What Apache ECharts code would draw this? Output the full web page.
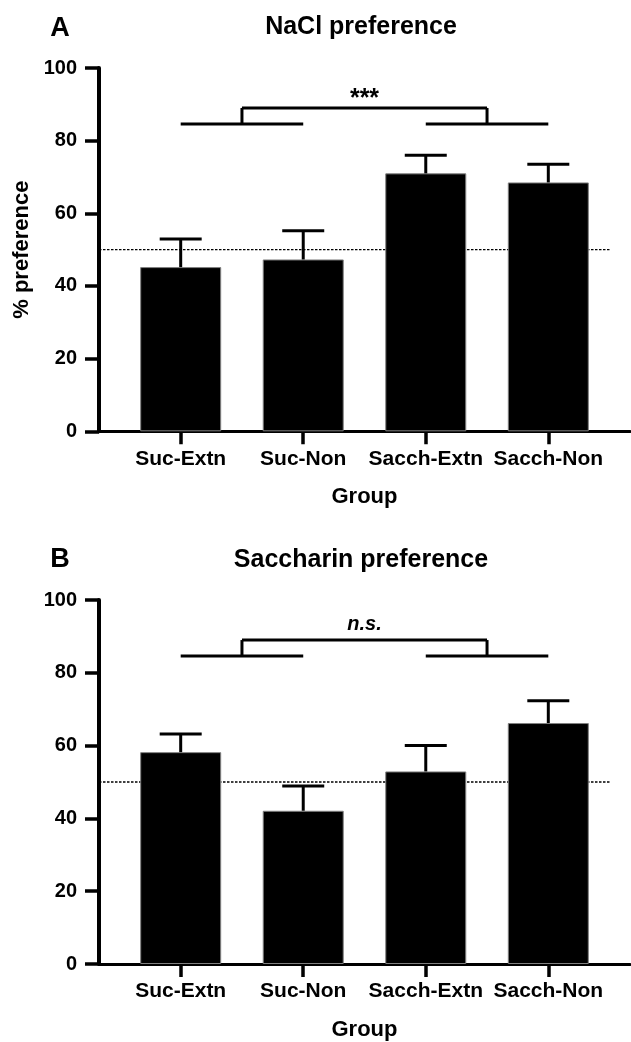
<!DOCTYPE html>
<html><head><meta charset="utf-8">
<script src="https://cdn.jsdelivr.net/npm/echarts@6/dist/echarts.min.js"></script>
<style>html,body{margin:0;padding:0;background:#fff}#c{width:631px;height:1042px}</style>
</head><body><div id="c"></div>
<script>
// ---- data ----
const categories = ['Suc-Extn', 'Suc-Non', 'Sacch-Extn', 'Sacch-Non'];
const naclMean = [45.2, 47.3, 71.0, 68.5];
const naclSem  = [7.7, 7.9, 5.0, 5.0];
const saccMean = [58.2, 42.1, 52.9, 66.2];
const saccSem  = [5.0, 6.8, 7.1, 6.1];
const yTicks = [0, 20, 40, 60, 80, 100];
const chanceLevel = 50;
const bracketLow = 84.6;
const bracketHigh = 89.0;
const naclSig = '***';
const saccSig = 'n.s.';
const naclSigY = 91.5;
const saccSigY = 93.4;
const panelTitles = ['NaCl preference', 'Saccharin preference'];
const panelLetters = ['A', 'B'];

// ---- chart ----
const FONT = '"Liberation Sans", Arial, Helvetica, sans-serif';
const xMin = -2 / 3, xMax = categories.length - 1 + 2 / 3;
const idx = categories.map((_, i) => i);

function xAxisCfg(gi) {
  return {
    type: 'value', gridIndex: gi, min: xMin, max: xMax,
    splitLine: { show: false },
    axisLine: { show: true, onZero: false, lineStyle: { color: '#000', width: 3 } },
    axisTick: { show: true, customValues: idx, length: 13, lineStyle: { color: '#000', width: 3.5 } },
    axisLabel: {
      customValues: idx, formatter: v => categories[Math.round(v)],
      color: '#000', fontSize: 21, fontWeight: 'bold', fontFamily: FONT, margin: 17
    },
    name: 'Group', nameLocation: 'middle', nameGap: 55,
    nameTextStyle: { color: '#000', fontSize: 22, fontWeight: 'bold', fontFamily: FONT }
  };
}
function yAxisCfg(gi, withName) {
  return {
    type: 'value', gridIndex: gi, min: yTicks[0], max: yTicks[yTicks.length - 1], interval: 20,
    splitLine: { show: false },
    axisLine: { show: true, onZero: false, lineStyle: { color: '#000', width: 4 } },
    axisTick: { show: true, length: 14, lineStyle: { color: '#000', width: 3.5 } },
    axisLabel: { color: '#000', fontSize: 20, fontWeight: 'bold', fontFamily: FONT, margin: 22 },
    name: withName ? '% preference' : '', nameLocation: 'middle', nameGap: 60, nameRotate: 90,
    nameTextStyle: { color: '#000', fontSize: 22, fontWeight: 'bold', fontFamily: FONT }
  };
}

function barSeries(gi, mean) {
  return {
    type: 'bar', xAxisIndex: gi, yAxisIndex: gi, barWidth: 81, z: 3,
    data: mean.map((v, i) => [i, v]),
    itemStyle: { color: '#000', borderColor: '#808080', borderWidth: 1 }
  };
}
function errSeries(gi, mean, sem) {
  return {
    type: 'custom', xAxisIndex: gi, yAxisIndex: gi, z: 4,
    data: mean.map((v, i) => [i, v, v + sem[i]]),
    renderItem: (params, api) => {
      const b = api.coord([api.value(0), api.value(1)]);
      const t = api.coord([api.value(0), api.value(2)]);
      const s = { stroke: '#000', lineWidth: 3 };
      return { type: 'group', children: [
        { type: 'line', shape: { x1: b[0], y1: b[1], x2: t[0], y2: t[1] }, style: s },
        { type: 'line', shape: { x1: t[0] - 21, y1: t[1], x2: t[0] + 21, y2: t[1] }, style: s }
      ]};
    }
  };
}
function chanceSeries(gi) {
  return {
    type: 'line', xAxisIndex: gi, yAxisIndex: gi, z: 1, symbol: 'none', silent: true,
    data: [[xMin, chanceLevel], [categories.length - 0.5, chanceLevel]],
    lineStyle: { color: '#000', width: 1.3, type: [2.5, 1.5] }
  };
}
function bracketSeries(gi, label, labelY, italic) {
  return {
    type: 'custom', xAxisIndex: gi, yAxisIndex: gi, z: 5,
    data: [[0, 1, 2, 3]],
    renderItem: (params, api) => {
      const a = api.value(0), b = api.value(1), c = api.value(2), d = api.value(3);
      const m1 = (a + b) / 2, m2 = (c + d) / 2;
      const P = (x, y) => api.coord([x, y]);
      const s = { stroke: '#000', lineWidth: 3 };
      const seg = (p, q) => ({ type: 'line', shape: { x1: p[0], y1: p[1], x2: q[0], y2: q[1] }, style: s });
      const lp = P((m1 + m2) / 2, labelY);
      return { type: 'group', children: [
        seg(P(a, bracketLow), P(b, bracketLow)),
        seg(P(c, bracketLow), P(d, bracketLow)),
        seg(P(m1, bracketLow), P(m1, bracketHigh)),
        seg(P(m2, bracketLow), P(m2, bracketHigh)),
        seg(P(m1, bracketHigh), P(m2, bracketHigh)),
        { type: 'text', x: lp[0], y: lp[1], style: {
          text: label, fill: '#000', align: 'center', verticalAlign: 'middle',
          font: (italic ? 'italic ' : '') + 'bold ' + (italic ? 20 : 25) + 'px ' + FONT } }
      ]};
    }
  };
}

const titleStyle = { color: '#000', fontSize: 25, fontWeight: 'bold', fontFamily: FONT };
const letterStyle = { color: '#000', fontSize: 27, fontWeight: 'bold', fontFamily: FONT };
const chart = echarts.init(document.getElementById('c'), null, { renderer: 'canvas' });
chart.setOption({
  animation: false,
  backgroundColor: '#fff',
  title: [
    { text: panelTitles[0], left: 361, top: 15, textAlign: 'center', padding: 0, textStyle: titleStyle },
    { text: panelTitles[1], left: 361, top: 548, textAlign: 'center', padding: 0, textStyle: titleStyle },
    { text: panelLetters[0], left: 60, top: 15, textAlign: 'center', padding: 0, textStyle: letterStyle },
    { text: panelLetters[1], left: 60, top: 546, textAlign: 'center', padding: 0, textStyle: letterStyle }
  ],
  grid: [
    { left: 99, top: 68, width: 531, height: 363.3, containLabel: false },
    { left: 99, top: 600, width: 531, height: 364, containLabel: false }
  ],
  xAxis: [xAxisCfg(0), xAxisCfg(1)],
  yAxis: [yAxisCfg(0, true), yAxisCfg(1, false)],
  series: [
    chanceSeries(0), barSeries(0, naclMean), errSeries(0, naclMean, naclSem), bracketSeries(0, naclSig, naclSigY, false),
    chanceSeries(1), barSeries(1, saccMean), errSeries(1, saccMean, saccSem), bracketSeries(1, saccSig, saccSigY, true)
  ]
});
</script></body></html>
